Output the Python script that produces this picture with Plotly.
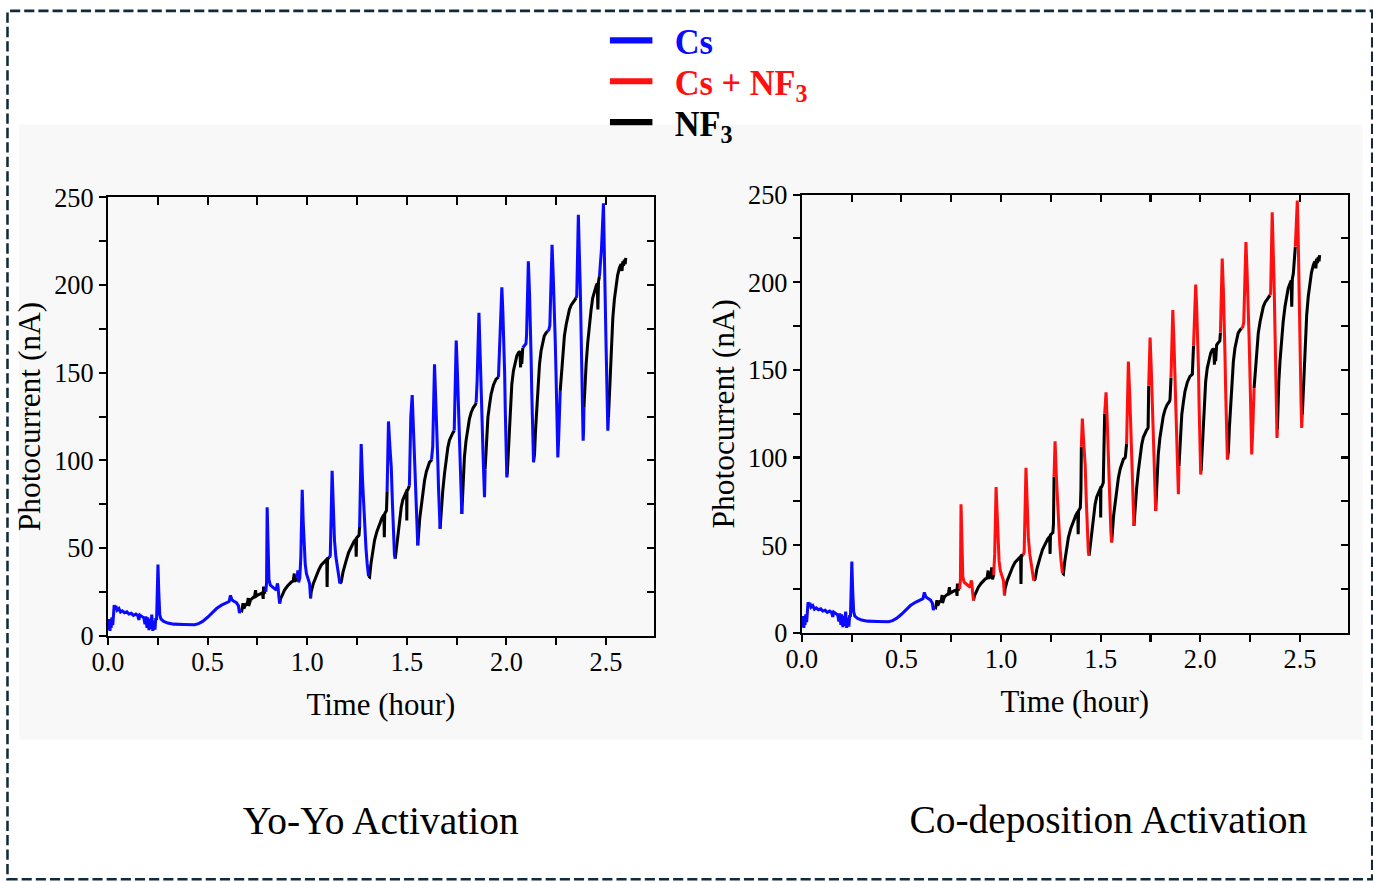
import plotly.graph_objects as go

# ---------------- data ----------------
# one continuous photocurrent record shared by both panels
time_h = [
    # Cs-only start
    0.000, 0.004, 0.007, 0.010, 0.013, 0.016, 0.020, 0.024, 0.028, 0.031, 0.036, 0.040, 0.046, 0.055,
    0.063, 0.072, 0.083, 0.095, 0.105, 0.117, 0.128, 0.140, 0.150, 0.155, 0.160, 0.170, 0.180, 0.186,
    0.190, 0.196, 0.200, 0.206, 0.210, 0.215, 0.220, 0.225, 0.230, 0.236, 0.240, 0.244, 0.248, 0.251,
    0.255, 0.260, 0.266, 0.280, 0.300, 0.330, 0.380, 0.435, 0.455, 0.475, 0.500, 0.520, 0.545, 0.570,
    0.600, 0.608, 0.615, 0.622, 0.630, 0.645, 0.655, 0.660, 0.666,
    # NF3 1
    0.672, 0.678, 0.682, 0.690, 0.700, 0.704, 0.706, 0.716, 0.726, 0.736, 0.741, 0.743, 0.757, 0.769,
    0.776, 0.779, 0.781, 0.784, 0.792,
    # spike 1
    0.796, 0.799, 0.803, 0.808, 0.815, 0.825, 0.836, 0.845, 0.850, 0.853, 0.858, 0.862,
    # NF3 2
    0.866, 0.875, 0.886, 0.900, 0.912, 0.920, 0.930, 0.935, 0.937, 0.945, 0.950,
    # spike 2
    0.953, 0.957, 0.963, 0.968, 0.975, 0.980, 0.984, 0.990, 0.996, 1.004, 1.012, 1.017,
    # NF3 3
    1.020, 1.030, 1.045, 1.058, 1.070, 1.085, 1.098, 1.100, 1.102, 1.112,
    # spike 3
    1.116, 1.125, 1.131, 1.137, 1.144, 1.151, 1.158, 1.164,
    # NF3 4
    1.171, 1.180, 1.188, 1.196, 1.208, 1.221, 1.234, 1.244, 1.246, 1.248, 1.260,
    # spike 4
    1.263, 1.266, 1.271, 1.278, 1.288, 1.295, 1.301, 1.308,
    # NF3 5
    1.313, 1.320, 1.330, 1.338, 1.350, 1.363, 1.375, 1.385, 1.387, 1.389, 1.398,
    # spike 5
    1.401, 1.403, 1.408, 1.415, 1.422, 1.428, 1.433, 1.438, 1.442,
    # NF3 6
    1.446, 1.455, 1.463, 1.472, 1.480, 1.488, 1.499, 1.500, 1.501, 1.505, 1.513,
    # spike 6
    1.520, 1.527, 1.533, 1.538, 1.543, 1.547, 1.551, 1.555,
    # NF3 7
    1.559, 1.565, 1.572, 1.580, 1.589, 1.598, 1.606, 1.614, 1.622, 1.624,
    # spike 7
    1.630, 1.639, 1.646, 1.652, 1.656, 1.659, 1.663, 1.667,
    # NF3 8
    1.672, 1.680, 1.689, 1.697, 1.706, 1.714, 1.722, 1.730, 1.736, 1.738,
    # spike 8
    1.741, 1.748, 1.754, 1.759, 1.764, 1.768, 1.772, 1.776,
    # NF3 9
    1.778, 1.783, 1.789, 1.797, 1.806, 1.814, 1.823, 1.833, 1.845, 1.848,
    # spike 9
    1.853, 1.862, 1.868, 1.873, 1.878, 1.882, 1.886, 1.890, 1.893,
    # NF3 10
    1.900, 1.907, 1.915, 1.923, 1.935, 1.948, 1.960,
    # spike 10
    1.966, 1.977, 1.982, 1.987, 1.991, 1.994, 1.998, 2.002, 2.004,
    # NF3 11
    2.007, 2.015, 2.021, 2.027, 2.035, 2.044, 2.052, 2.060, 2.068, 2.071, 2.074, 2.077, 2.080, 2.082,
    # spike 11
    2.090, 2.098, 2.101, 2.110, 2.116, 2.121, 2.124, 2.127, 2.131, 2.136,
    # NF3 12
    2.141, 2.146, 2.152, 2.159, 2.166, 2.174, 2.182, 2.190, 2.199, 2.206,
    # spike 12
    2.213, 2.218, 2.229, 2.235, 2.241, 2.245, 2.249, 2.253, 2.258, 2.262, 2.266, 2.270,
    # NF3 13
    2.277, 2.283, 2.291, 2.300, 2.308, 2.316, 2.325, 2.333, 2.342, 2.350,
    # spike 13
    2.353, 2.361, 2.366, 2.371, 2.375, 2.378, 2.382, 2.385, 2.387, 2.389,
    # NF3 14
    2.394, 2.400, 2.408, 2.416, 2.425, 2.433, 2.441, 2.450, 2.456, 2.459, 2.462, 2.467,
    # spike 14
    2.477, 2.487, 2.491, 2.495, 2.499, 2.502, 2.506, 2.509, 2.512,
    # NF3 15
    2.517, 2.522, 2.528, 2.534, 2.542, 2.550, 2.558, 2.567, 2.575, 2.580, 2.584, 2.588, 2.592, 2.596,
    2.599,
]

current_nA = [
    8.5, 3.5, 9.5, 2.8, 8.0, 4.5, 10.5, 6.0, 12.0, 17.4, 15.5, 17.0, 14.6, 15.5,
    13.5, 14.2, 13.1, 13.6, 12.4, 12.8, 11.6, 12.3, 11.4, 9.0, 11.8, 10.8, 10.2, 6.5,
    11.0, 4.5, 10.5, 3.2, 9.5, 4.0, 12.0, 2.8, 8.5, 3.5, 10.0, 9.0, 25.0, 40.6,
    25.0, 12.0, 9.5, 8.2, 7.2, 6.6, 6.4, 6.3, 6.9, 8.2, 10.5, 12.5, 15.5, 17.4,
    18.8, 19.5, 23.0, 20.5, 19.8, 18.8, 17.0, 13.0, 15.0,
    14.5, 18.5, 15.5, 17.5, 18.5, 21.5, 17.0, 20.5, 21.5, 22.5, 26.0, 22.5, 23.5, 24.0,
    24.5, 21.0, 28.0, 24.5, 25.0,
    30.0, 73.3, 45.0, 32.0, 28.8, 28.0, 26.9, 26.0, 29.8, 28.5, 22.0, 18.4,
    21.0, 23.2, 26.0, 28.2, 29.8, 30.6, 31.2, 35.5, 31.0, 31.8, 33.0,
    37.3, 30.5, 33.0, 45.0, 83.2, 65.0, 52.0, 41.0, 35.5, 32.0, 29.8, 21.3,
    25.0, 29.5, 34.5, 37.5, 40.2, 42.0, 43.5, 27.8, 44.0, 44.5,
    46.0, 94.1, 72.0, 54.4, 45.0, 39.2, 34.0, 29.8,
    30.7, 36.5, 40.5, 43.0, 47.5, 50.6, 53.5, 55.0, 45.0, 55.8, 57.2,
    62.0, 89.0, 109.3, 88.0, 61.9, 50.0, 41.1, 33.9,
    33.5, 41.0, 49.5, 54.4, 59.5, 63.9, 67.0, 69.0, 56.2, 69.6, 71.4,
    82.0, 106.3, 122.2, 108.0, 96.0, 75.0, 58.2, 46.0, 44.0,
    48.0, 58.2, 65.5, 73.3, 77.5, 80.0, 82.5, 65.7, 83.0, 83.2, 85.6,
    124.9, 137.2, 120.0, 99.8, 82.0, 69.5, 58.0, 51.5,
    60.0, 67.0, 73.3, 81.0, 88.5, 93.5, 97.0, 99.0, 99.8, 100.5,
    107.7, 154.8, 135.0, 115.0, 98.0, 84.7, 72.0, 61.0,
    71.4, 82.0, 92.3, 100.5, 107.4, 111.5, 114.0, 115.5, 116.5, 117.0,
    141.0, 168.4, 150.0, 133.9, 115.0, 99.8, 84.0, 69.5,
    75.0, 88.0, 101.7, 111.0, 118.8, 123.5, 127.3, 130.0, 132.0, 133.0,
    145.6, 184.1, 165.0, 143.4, 122.0, 105.5, 90.0, 79.0, 95.0,
    112.0, 124.4, 131.5, 137.7, 143.0, 146.3, 147.5,
    163.7, 198.7, 185.0, 168.0, 150.0, 130.0, 110.0, 90.3, 92.0,
    98.0, 120.7, 133.0, 143.4, 151.0, 156.6, 159.5, 161.4, 162.0, 153.0, 162.5, 155.0, 163.0, 164.2,
    165.5, 166.5, 171.2, 213.5, 195.0, 177.5, 158.0, 139.6, 118.0, 98.9,
    103.6, 117.0, 130.1, 143.0, 154.8, 162.5, 168.0, 171.0, 172.7, 173.6,
    174.5, 177.0, 223.0, 205.0, 186.9, 168.0, 149.1, 125.0, 101.7, 112.0, 127.0, 139.6,
    152.0, 162.3, 171.0, 177.5, 182.5, 186.0, 188.5, 189.8, 191.5, 192.6,
    194.0, 240.0, 222.0, 196.4, 172.0, 149.0, 128.0, 111.2, 116.0, 130.1,
    143.0, 154.8, 167.0, 177.5, 186.0, 192.6, 196.5, 199.3, 201.0, 186.0, 202.1, 205.0,
    220.4, 246.6, 228.0, 196.4, 172.0, 149.0, 130.0, 116.9, 124.4,
    140.0, 154.8, 169.0, 181.3, 192.0, 200.2, 205.5, 209.7, 212.0, 208.0, 213.5, 211.0, 214.4, 212.0,
    215.5,
]

# time windows (hour) of each dosing phase, per panel
yoyo_cs_windows = [(0.000, 0.666), (0.792, 0.862), (0.950, 1.017), (1.112, 1.164), (1.263, 1.308),
                   (1.401, 1.442), (1.513, 1.555), (1.624, 1.667), (1.738, 1.776), (1.848, 1.893),
                   (1.960, 2.004), (2.082, 2.136), (2.206, 2.270), (2.350, 2.389), (2.467, 2.512)]
codep_cs_windows = [(0.000, 0.666)]
codep_csnf3_windows = [(0.792, 0.862), (0.963, 1.017), (1.112, 1.164), (1.266, 1.308), (1.403, 1.442),
                       (1.520, 1.555), (1.630, 1.667), (1.741, 1.776), (1.853, 1.893), (1.966, 2.004),
                       (2.101, 2.136), (2.206, 2.270), (2.350, 2.387), (2.477, 2.512)]

legend_names = ["Cs", "Cs + NF<sub>3</sub>", "NF<sub>3</sub>"]
panel_titles = ["Yo-Yo Activation", "Co-deposition Activation"]
x_range = [0, 2.74]
y_range = [0, 250]

BLUE = "#0a0aff"
RED = "#ff1010"
BLACK = "#000000"
SERIF = "Liberation Serif, Times New Roman, serif"


def split_by_windows(t, y, windows_by_color, default_color):
    """Return {color: (xs, ys)} with None gaps, each segment coloured by phase."""
    out = {}
    last_idx = {}
    eps = 1e-9
    for i in range(len(t) - 1):
        mid = 0.5 * (t[i] + t[i + 1])
        col = default_color
        for c, wins in windows_by_color.items():
            if any(a - eps <= mid <= b + eps for a, b in wins):
                col = c
                break
        xs, ys = out.setdefault(col, ([], []))
        if last_idx.get(col) != i:
            if xs:
                xs.append(None)
                ys.append(None)
            xs.append(t[i])
            ys.append(y[i])
        xs.append(t[i + 1])
        ys.append(y[i + 1])
        last_idx[col] = i + 1
    return out


fig = go.Figure()

panels = [
    ("x", "y", {BLUE: yoyo_cs_windows}),
    ("x2", "y2", {BLUE: codep_cs_windows, RED: codep_csnf3_windows}),
]
for xa, ya, wins in panels:
    segs = split_by_windows(time_h, current_nA, wins, BLACK)
    for col in [BLACK, BLUE, RED]:
        if col in segs:
            xs, ys = segs[col]
            fig.add_trace(go.Scatter(x=xs, y=ys, mode="lines", xaxis=xa, yaxis=ya,
                                     line=dict(color=col, width=3), showlegend=False,
                                     hoverinfo="skip", connectgaps=False))

W, H = 1373, 882
NBSP = "\u00a0"

# legend entries: one small legend per entry so the spacing can follow the picture
legend_keys = ["legend", "legend2", "legend3"]
for name, col, key in zip(legend_names, [BLUE, RED, BLACK], legend_keys):
    fig.add_trace(go.Scatter(x=[None], y=[None], mode="lines", xaxis="x", yaxis="y",
                             line=dict(color=col, width=6), legend=key,
                             name=f"{NBSP}{NBSP}<span style='color:{col}'><b>{name}</b></span>"))

# dummy traces so the mirror axes are drawn
for xa, ya in [("x3", "y3"), ("x4", "y4")]:
    fig.add_trace(go.Scatter(x=[None], y=[None], xaxis=xa, yaxis=ya, showlegend=False,
                             hoverinfo="skip"))

L_dom_x = [107 / W, 653 / W]
L_dom_y = [1 - 635.7 / H, 1 - 196 / H]
R_dom_x = [801 / W, 1347 / W]
R_dom_y = [1 - 632.7 / H, 1 - 193.3 / H]

tick_font = dict(family=SERIF, size=26, color="black")
title_font = dict(family=SERIF, size=30.5, color="black")


def bottom_axis(domain, anchor):
    return dict(domain=domain, anchor=anchor, range=x_range, tick0=0, dtick=0.5,
                tickformat=".1f", ticks="outside", ticklen=7, tickwidth=1.5, tickcolor="black",
                minor=dict(dtick=0.25, ticks="outside", ticklen=7, tickwidth=1.5, tickcolor="black"),
                showline=True, linewidth=2, linecolor="black", showgrid=False, zeroline=False,
                tickfont=tick_font, ticklabelstandoff=-6,
                title=dict(text="Time (hour)", font=title_font, standoff=16),
                fixedrange=True)


def left_axis(domain, anchor):
    return dict(domain=domain, anchor=anchor, range=y_range, tick0=0, dtick=50,
                ticks="outside", ticklen=7, tickwidth=1.5, tickcolor="black",
                minor=dict(dtick=25, ticks="outside", ticklen=7, tickwidth=1.5, tickcolor="black"),
                showline=True, linewidth=2, linecolor="black", showgrid=False, zeroline=False,
                tickfont=tick_font, title=dict(text="Photocurrent (nA)", font=title_font, standoff=4),
                fixedrange=True)


def top_axis(overlay, anchor):
    return dict(overlaying=overlay, anchor=anchor, side="top", range=x_range, tick0=0, dtick=0.25,
                ticks="inside", ticklen=7, tickwidth=1.5, tickcolor="black", showticklabels=False,
                showline=True, linewidth=2, linecolor="black", showgrid=False, zeroline=False,
                fixedrange=True)


def right_axis(overlay, anchor):
    return dict(overlaying=overlay, anchor=anchor, side="right", range=y_range, tick0=0, dtick=25,
                ticks="inside", ticklen=7, tickwidth=1.5, tickcolor="black", showticklabels=False,
                showline=True, linewidth=2, linecolor="black", showgrid=False, zeroline=False,
                fixedrange=True)


legend_font = dict(family=SERIF, size=34, color="black")
legend_common = dict(xanchor="left", yanchor="top", font=legend_font, bgcolor="rgba(0,0,0,0)",
                     itemwidth=42, borderwidth=0)

fig.update_layout(
    width=W, height=H,
    margin=dict(l=0, r=0, t=0, b=0),
    paper_bgcolor="white",
    plot_bgcolor="white",
    showlegend=True,
    legend=dict(x=604 / W, y=1 - 9 / H, **legend_common),
    legend2=dict(x=604 / W, y=1 - 50 / H, **legend_common),
    legend3=dict(x=604 / W, y=1 - 91 / H, **legend_common),
    xaxis=bottom_axis(L_dom_x, "y"),
    yaxis=left_axis(L_dom_y, "x"),
    xaxis2=bottom_axis(R_dom_x, "y2"),
    yaxis2=left_axis(R_dom_y, "x2"),
    xaxis3=top_axis("x", "y"),
    yaxis3=right_axis("y", "x"),
    xaxis4=top_axis("x2", "y2"),
    yaxis4=right_axis("y2", "x2"),
    shapes=[
        dict(type="rect", xref="paper", yref="paper", x0=18 / W, x1=1362 / W,
             y0=1 - 740 / H, y1=1 - 123 / H, fillcolor="#f8f8f8", line=dict(width=0),
             layer="below"),
        dict(type="rect", xref="paper", yref="paper", x0=6.5 / W, x1=1371.5 / W,
             y0=1 - 880 / H, y1=1 - 9 / H,
             line=dict(color="#0f2a3a", width=2.5, dash="10px,4px"), fillcolor="rgba(0,0,0,0)"),
    ],
    annotations=[
        dict(text=panel_titles[0], x=380 / W, y=1 - 820 / H, xref="paper", yref="paper",
             xanchor="center", yanchor="middle",
             showarrow=False, font=dict(family=SERIF, size=39, color="black")),
        dict(text=panel_titles[1], x=1107 / W, y=1 - 820 / H, xref="paper", yref="paper",
             xanchor="center", yanchor="middle",
             showarrow=False, font=dict(family=SERIF, size=39, color="black")),
    ],
)

fig.write_html(
    "out.html",
    config={"displayModeBar": False},
    post_script=("var gd=document.getElementById('{plot_id}');"
                 "document.body.style.margin='0';"
                 "gd.style.position='absolute';gd.style.left='0px';gd.style.top='0px';"
                 "gd.style.transformOrigin='0 0';"
                 "gd.style.transform='translate(-15.2px,-12.5px) scale(1.0116,1.0309)';"),
)
